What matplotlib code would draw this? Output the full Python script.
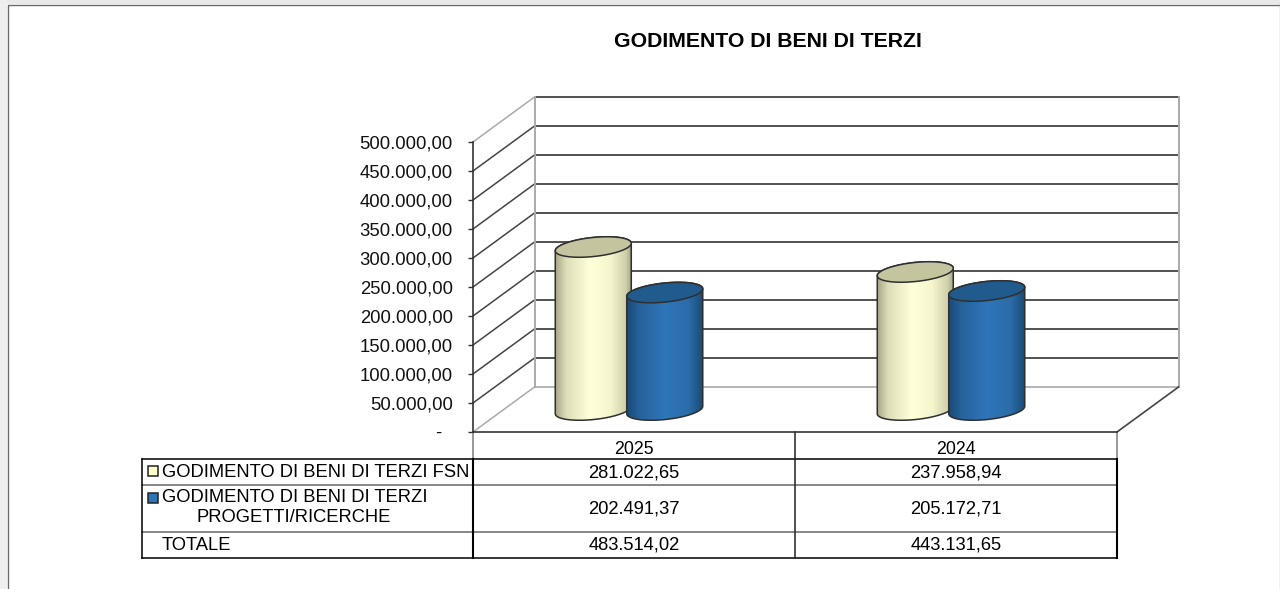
import matplotlib
matplotlib.use("Agg")
import matplotlib.pyplot as plt
import numpy as np
from matplotlib.colors import LinearSegmentedColormap
from matplotlib.patches import Polygon, Rectangle

plt.rcParams['font.family'] = ['Liberation Sans', 'DejaVu Sans']

# ==========================================
# data
# ==========================================
years = ["2025", "2024"]
fsn = [281022.65, 237958.94]
progetti = [202491.37, 205172.71]
totale = [483514.02, 443131.65]
y_ticks = [0, 50000, 100000, 150000, 200000, 250000, 300000, 350000, 400000, 450000, 500000]
y_labels = ["-  ", "50.000,00", "100.000,00", "150.000,00", "200.000,00", "250.000,00",
            "300.000,00", "350.000,00", "400.000,00", "450.000,00", "500.000,00"]
row_names = ["GODIMENTO DI BENI DI TERZI FSN", "GODIMENTO DI BENI DI TERZI", "PROGETTI/RICERCHE", "TOTALE"]


def it_num(v):
    return f"{v:,.2f}".replace(",", "#").replace(".", ",").replace("#", ".")


# ==========================================
# figure, page background and plot axes
# ==========================================
W, H = 1280, 589
fig = plt.figure(figsize=(W / 100, H / 100), dpi=100, facecolor="white")

# page layer, works in image pixels
page = fig.add_axes([0, 0, 1, 1])
page.set_xlim(0, W)
page.set_ylim(H, 0)
page.axis("off")
page.add_patch(Rectangle((0, 0), W, 4, color="#e9e9e9", lw=0))
page.add_patch(Rectangle((0, 0), 7, H, color="#efefef", lw=0))
page.plot([7.5, 7.5, W], [H, 4.5, 4.5], color="#6a6a6a", lw=1.0)
page.plot([1279.5, 1279.5], [4, H], color="#b5b5b5", lw=1)

# plot axes: front plane of the 3d box
FX0, FX1, FY0, FY1 = 473, 1117, 432, 142
ax = fig.add_axes([FX0 / W, 1 - FY0 / H, (FX1 - FX0) / W, (FY0 - FY1) / H], facecolor="none")
ax.set_xlim(0, 2)
ax.set_ylim(0, 500000)
PX_X = (FX1 - FX0) / 2
PX_Y = (FY0 - FY1) / 500000


def shift(x, y, dx, dy):
    # move a data point by some pixels (dy is positive going up)
    return x + np.asarray(dx) / PX_X, y + np.asarray(dy) / PX_Y


DX, DY = 61.5, 45  # depth of the box in pixels

# walls and gridlines
for v in y_ticks:
    x0, y0 = shift(0, v, DX, DY)
    x1, y1 = shift(2, v, DX, DY)
    c = "#aaaaaa" if v == 0 else "#333333"
    ax.plot([x0, x1], [y0, y1], color=c, lw=1.2, clip_on=False, zorder=1)
    c = "#aaaaaa" if v in (0, 500000) else "#444444"
    ax.plot([0, x0], [v, y0], color=c, lw=1.1, clip_on=False, zorder=1)
for xb in (0, 2):
    xa, ya = shift(xb, 0, DX, DY)
    xc, yc = shift(xb, 500000, DX, DY)
    ax.plot([xa, xc], [ya, yc], color="#aaaaaa", lw=1.4, clip_on=False, zorder=1)
xa, ya = shift(2, 0, DX, DY)
ax.plot([2, xa], [0, ya], color="#444444", lw=1.2, clip_on=False, zorder=1)

# ==========================================
# cylinders
# ==========================================
cream = LinearSegmentedColormap.from_list("cream", [(0, "#a5a586"), (0.14, "#dcdcb6"), (0.45, "#ffffd9"),
                                                    (0.72, "#f6f6ce"), (0.92, "#cfcfab"), (1, "#a3a383")])
blue = LinearSegmentedColormap.from_list("blue", [(0, "#1a4a78"), (0.16, "#27629b"), (0.5, "#2e76ba"),
                                                  (0.8, "#2b6ca9"), (1, "#1a4872")])

A, B, TILT = 38.2, 9.5, np.radians(-6)
T0 = np.arctan2(-B * np.sin(TILT), A * np.cos(TILT))


def ell(t):
    ex = A * np.cos(t) * np.cos(TILT) - B * np.sin(t) * np.sin(TILT)
    ey = A * np.cos(t) * np.sin(TILT) + B * np.sin(t) * np.cos(TILT)
    return ex, -ey


def cylinder(xc, value, cmap, top_color, z):
    # centre of the base sits half way into the box
    cx, cy = shift(xc, 0, DX / 2, DY / 2 - 0.5)
    up = np.linspace(T0, T0 - np.pi, 50)
    down = np.linspace(T0 + np.pi, T0, 50)
    ux, uy = ell(up)
    dx, dy = ell(down)
    px = np.r_[cx + ux / PX_X, cx + dx / PX_X]
    py = np.r_[cy + value + uy / PX_Y, cy + dy / PX_Y]
    body = Polygon(np.c_[px, py], closed=True, fc="none", ec="#2f2f2f", lw=1.1, clip_on=False, zorder=z + 1)
    ax.add_patch(body)
    im = ax.imshow(np.linspace(0, 1, 256)[None, :], cmap=cmap, aspect="auto", zorder=z, origin="lower",
                   extent=(cx - A / PX_X, cx + A / PX_X, cy - 30 / PX_Y, cy + value + 30 / PX_Y))
    im.set_clip_path(Polygon(np.c_[px, py], closed=True, transform=ax.transData))
    tx, ty = ell(np.linspace(0, 2 * np.pi, 100))
    ax.add_patch(Polygon(np.c_[cx + tx / PX_X, cy + value + ty / PX_Y], closed=True, fc=top_color,
                         ec="#2f2f2f", lw=1.1, clip_on=False, zorder=z + 2))


for i in range(len(years)):
    cylinder(i + 0.278, fsn[i], cream, "#c4c49f", 3 + i * 10)
    cylinder(i + 0.5, progetti[i], blue, "#215a8c", 6 + i * 10)

ax.set_xlim(0, 2)
ax.set_ylim(0, 500000)

# axis
for s in ("top", "right"):
    ax.spines[s].set_visible(False)
ax.spines["left"].set_color("#333333")
ax.spines["bottom"].set_color("#333333")
ax.spines["left"].set_linewidth(1.2)
ax.spines["bottom"].set_linewidth(1.2)
ax.set_xticks([])
ax.set_yticks(y_ticks)
ax.set_yticklabels(y_labels, fontsize=13.3, color="#111111")
ax.tick_params(axis="y", length=3.6, width=1, color="#333333", pad=11)

page.text(767.5, 41.5, "GODIMENTO DI BENI DI TERZI", ha="center", va="center", fontsize=15.3, fontweight="bold", color="black")

# ==========================================
# data table under the chart
# ==========================================
TX = [142, 473, 795, 1117]
TY = [432, 459, 485, 532, 558]
for y in (TY[1], TY[4]):
    page.plot([TX[0], TX[3]], [y, y], color="black", lw=1.1, zorder=5)
for y in (TY[2], TY[3]):
    page.plot([TX[0], TX[3]], [y, y], color="#666666", lw=1.1, zorder=4)
page.plot([TX[0], TX[0]], [TY[1], TY[4]], color="black", lw=1.1, zorder=5)
page.plot([TX[1], TX[1]], [TY[1], TY[4]], color="black", lw=1.5, zorder=5)
page.plot([TX[2], TX[2]], [TY[0], TY[4]], color="#222222", lw=1.1, zorder=5)
page.plot([TX[3], TX[3]], [TY[1], TY[4]], color="black", lw=1.5, zorder=5)
page.plot([TX[1], TX[1]], [TY[0], TY[1]], color="#888888", lw=1.2, zorder=4)
page.plot([TX[3], TX[3]], [TY[0], TY[1]], color="#888888", lw=1.2, zorder=4)

FS = 13.2
row_y = [(TY[1] + TY[2]) / 2 + 0.5, (TY[2] + TY[3]) / 2 + 0.5, (TY[3] + TY[4]) / 2 + 0.5]
for i in range(len(years)):
    xm = (TX[i + 1] + TX[i + 2]) / 2
    page.text(xm, 449.5, years[i], ha="center", va="center", fontsize=FS - 0.4)
    page.text(xm, row_y[0], it_num(fsn[i]), ha="center", va="center", fontsize=FS)
    page.text(xm, row_y[1], it_num(progetti[i]), ha="center", va="center", fontsize=FS)
    page.text(xm, row_y[2], it_num(totale[i]), ha="center", va="center", fontsize=FS)

page.text(162, row_y[0], row_names[0], ha="left", va="center", fontsize=FS)
page.text(162, 497, row_names[1], ha="left", va="center", fontsize=FS)
page.text(294, 518, row_names[2], ha="center", va="center", fontsize=FS)
page.text(162, row_y[2], row_names[3], ha="left", va="center", fontsize=FS)
page.add_patch(Rectangle((147.5, 466), 10, 9.5, fc="#ffffcc", ec="#222222", lw=1.1, zorder=6))
page.add_patch(Rectangle((147.5, 493), 10, 9.5, fc="#2e75b6", ec="#222222", lw=1.1, zorder=6))

fig.savefig("out.png", dpi=100)
